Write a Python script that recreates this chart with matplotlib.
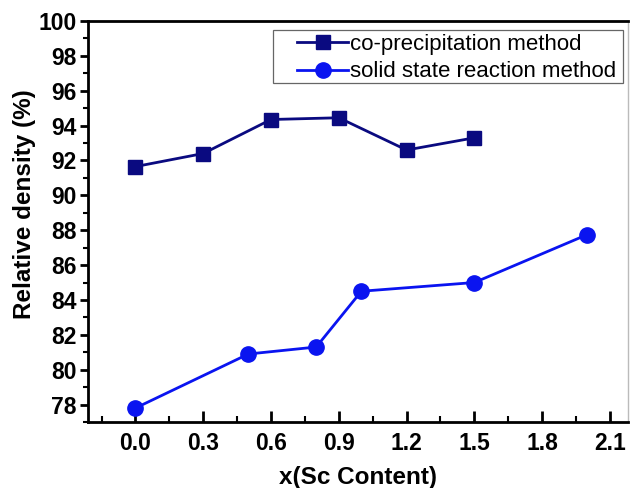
import numpy as np
import matplotlib
matplotlib.use('Agg')
import matplotlib.pyplot as plt
from matplotlib.ticker import MultipleLocator
from matplotlib.patches import Rectangle

plt.rcParams['font.family'] = ['Liberation Sans', 'DejaVu Sans']

# co-precipitation method
x_cop = [0.0, 0.3, 0.6, 0.9, 1.2, 1.5]
y_cop = [91.65, 92.4, 94.35, 94.45, 92.6, 93.3]

# solid state reaction method
x_ssr = [0.0, 0.5, 0.8, 1.0, 1.5, 2.0]
y_ssr = [77.8, 80.9, 81.3, 84.5, 85.0, 87.75]

fig = plt.figure(figsize=(6.3, 4.88), dpi=100)
ax = fig.add_axes([88/630, 1 - 422/488, (628 - 88)/630, (422 - 21)/488])

ax.plot(x_cop, y_cop, c='#0a0a80', lw=2, marker='s', markersize=9.5,
        label='co-precipitation method')
ax.plot(x_ssr, y_ssr, c='#0a14f0', lw=2, marker='o', markersize=11,
        label='solid state reaction method')

ax.set_xlim(-0.21, 2.18)
ax.set_ylim(77, 100)

ax.xaxis.set_minor_locator(MultipleLocator(0.15))
ax.yaxis.set_major_locator(MultipleLocator(2))
ax.yaxis.set_minor_locator(MultipleLocator(1))
ax.set_xticks(np.arange(0, 2.11, 0.3))
ax.set_xticklabels(['0.0', '0.3', '0.6', '0.9', '1.2', '1.5', '1.8', '2.1'])

ax.tick_params(axis='x', which='major', direction='in', length=8, width=2,
               labelsize=16.5, pad=7)
ax.tick_params(axis='x', which='minor', direction='in', length=4, width=1.5)
ax.tick_params(axis='y', which='major', direction='out', length=6, width=2,
               labelsize=16.5, pad=2)
ax.tick_params(axis='y', which='minor', direction='out', length=3.5, width=1.5)
for lab in ax.get_xticklabels() + ax.get_yticklabels():
    lab.set_fontweight('bold')

for s in ['left', 'bottom', 'top']:
    ax.spines[s].set_linewidth(2)
ax.spines['right'].set_linewidth(1)
ax.spines['right'].set_color('#bbbbbb')

ax.set_xlabel('x(Sc Content)', fontsize=17.5, fontweight='bold', labelpad=8)
ax.set_ylabel('Relative density (%)', fontsize=17.5, fontweight='bold')
ax.yaxis.set_label_coords(-0.097, 0.544)

# legend without its own frame, box drawn separately (wide left margin as in reference)
leg = ax.legend(loc='upper left', bbox_to_anchor=(0.387, 0.968), fontsize=16,
                frameon=False, borderpad=0, handlelength=2.3, handletextpad=0.1,
                labelspacing=0.3, borderaxespad=0)
ax.add_patch(Rectangle((0.3426, 0.845), 0.648, 0.1326, transform=ax.transAxes,
                       fill=False, edgecolor='#666666', lw=0.9, zorder=1))

fig.savefig('out.png', dpi=100)
